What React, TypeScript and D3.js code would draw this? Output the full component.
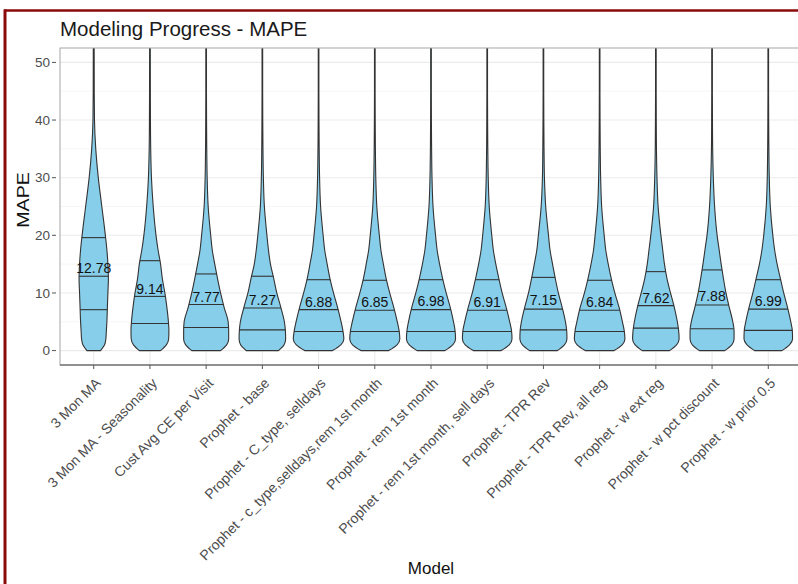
import React from "react";
import * as d3 from "d3";

const models = [
  "3 Mon MA",
  "3 Mon MA - Seasonality",
  "Cust Avg CE per Visit",
  "Prophet - base",
  "Prophet - C_type, selldays",
  "Prophet - c_type,selldays,rem 1st month",
  "Prophet - rem 1st month",
  "Prophet - rem 1st month, sell days",
  "Prophet - TPR Rev",
  "Prophet - TPR Rev, all reg",
  "Prophet - w ext reg",
  "Prophet - w pct discount",
  "Prophet - w prior 0.5",
];

const means = [12.78, 9.14, 7.77, 7.27, 6.88, 6.85, 6.98, 6.91, 7.15, 6.84, 7.62, 7.88, 6.99];
const q25 = [7.1, 4.7, 4.0, 3.6, 3.3, 3.3, 3.3, 3.3, 3.6, 3.3, 3.9, 3.8, 3.5];
const q50 = [12.9, 9.4, 8.0, 7.4, 7.1, 7.0, 7.1, 7.0, 7.2, 7.0, 7.8, 7.9, 7.2];
const q75 = [19.6, 15.6, 13.3, 12.9, 12.3, 12.2, 12.3, 12.3, 12.7, 12.2, 13.7, 14.0, 12.3];

// MAPE values at which the violin density (relative width) is read
const densityGrid = [0, 1, 2, 3.5, 5, 7.5, 10, 12.5, 15, 17.5, 20, 25, 30, 35, 40, 45, 55];
const densities: number[][] = [
  [0.27, 0.43, 0.48, 0.5, 0.52, 0.54, 0.56, 0.58, 0.56, 0.52, 0.46, 0.32, 0.18, 0.08, 0.03, 0.02, 0.016],
  [0.42, 0.65, 0.74, 0.75, 0.73, 0.67, 0.59, 0.49, 0.42, 0.32, 0.24, 0.13, 0.06, 0.03, 0.02, 0.016, 0.012],
  [0.57, 0.81, 0.89, 0.89, 0.87, 0.71, 0.57, 0.45, 0.34, 0.24, 0.18, 0.08, 0.04, 0.024, 0.016, 0.012, 0.012],
  [0.64, 0.86, 0.92, 0.91, 0.87, 0.73, 0.57, 0.45, 0.32, 0.24, 0.18, 0.08, 0.04, 0.024, 0.016, 0.012, 0.012],
  [0.55, 0.88, 1.0, 0.96, 0.89, 0.75, 0.59, 0.45, 0.34, 0.24, 0.18, 0.08, 0.04, 0.024, 0.016, 0.012, 0.012],
  [0.55, 0.88, 0.99, 0.96, 0.89, 0.75, 0.59, 0.45, 0.34, 0.24, 0.18, 0.08, 0.04, 0.024, 0.016, 0.012, 0.012],
  [0.55, 0.86, 0.97, 0.95, 0.89, 0.76, 0.60, 0.46, 0.34, 0.24, 0.18, 0.08, 0.04, 0.024, 0.016, 0.012, 0.012],
  [0.55, 0.87, 0.98, 0.96, 0.89, 0.75, 0.59, 0.46, 0.34, 0.24, 0.18, 0.08, 0.04, 0.024, 0.016, 0.012, 0.012],
  [0.55, 0.83, 0.93, 0.92, 0.87, 0.74, 0.59, 0.47, 0.36, 0.26, 0.20, 0.09, 0.04, 0.024, 0.016, 0.012, 0.012],
  [0.57, 0.89, 1.0, 0.97, 0.90, 0.77, 0.60, 0.46, 0.34, 0.24, 0.18, 0.08, 0.04, 0.024, 0.016, 0.012, 0.012],
  [0.54, 0.82, 0.92, 0.90, 0.85, 0.73, 0.58, 0.44, 0.34, 0.27, 0.20, 0.09, 0.045, 0.024, 0.016, 0.012, 0.012],
  [0.50, 0.78, 0.87, 0.87, 0.82, 0.68, 0.55, 0.45, 0.36, 0.28, 0.20, 0.10, 0.05, 0.024, 0.016, 0.012, 0.012],
  [0.54, 0.84, 0.96, 0.95, 0.89, 0.76, 0.61, 0.48, 0.35, 0.25, 0.18, 0.08, 0.04, 0.024, 0.016, 0.012, 0.012],
];

const yTicks = [0, 10, 20, 30, 40, 50];
const yMinor = [5, 15, 25, 35, 45];

const W = 798;
const H = 584;
const P = { left: 60, top: 48, right: 802, bottom: 365 };
const FONT = "'Liberation Sans', Arial, Helvetica, sans-serif";

export default function App() {
  const x = d3.scalePoint<string>().domain(models).range([P.left, P.right]).padding(0.6);
  const step = x.step();
  const y = d3.scaleLinear().domain([-2.5, 52.5]).range([P.bottom, P.top]);
  const wScale = d3.scaleLinear().domain([0, 1]).range([0, 0.45 * step]);

  return (
    <div style={{ position: "fixed", left: 0, top: 0, width: W, height: H, background: "#fff" }}>
      <svg width={W} height={H} style={{ display: "block" }}>
        <defs>
          <clipPath id="panel">
            <rect x={P.left} y={P.top} width={P.right - P.left} height={P.bottom - P.top} />
          </clipPath>
        </defs>
        <rect x={0} y={0} width={W} height={H} fill="#fff" />
        {/* frame */}
        <line x1={4} x2={W} y1={10.5} y2={10.5} stroke="#8b0a0a" strokeWidth={2.4} />
        <line x1={5} x2={5} y1={9.5} y2={H} stroke="#8b0a0a" strokeWidth={3} />

        <text x={P.left} y={36} fontFamily={FONT} fontSize={20.5} fill="#1a1a1a">
          Modeling Progress - MAPE
        </text>

        {/* grid */}
        <g clipPath="url(#panel)">
          {yMinor.map((t) => (
            <line key={"mn" + t} x1={P.left} x2={P.right} y1={y(t)} y2={y(t)} stroke="#f4f4f4" strokeWidth={0.8} />
          ))}
          {yTicks.map((t) => (
            <line key={"mj" + t} x1={P.left} x2={P.right} y1={y(t)} y2={y(t)} stroke="#ebebeb" strokeWidth={1.1} />
          ))}
          {models.map((m) => (
            <line key={"vx" + m} x1={x(m)} x2={x(m)} y1={P.top} y2={P.bottom} stroke="#ebebeb" strokeWidth={1.1} />
          ))}
        </g>

        {/* violins */}
        <g clipPath="url(#panel)">
          {models.map((m, i) => {
            const cx = x(m) as number;
            const pts = densityGrid.map((v, k) => ({ v, d: densities[i][k] }));
            const area = d3
              .area<{ v: number; d: number }>()
              .y((p) => y(p.v))
              .x0((p) => cx - wScale(p.d))
              .x1((p) => cx + wScale(p.d))
              .curve(d3.curveMonotoneY);
            const interp = d3.scaleLinear().domain(densityGrid).range(densities[i]);
            const qs = [q25[i], q50[i], q75[i]];
            return (
              <g key={m}>
                <path d={area(pts) || ""} fill="#87ceeb" stroke="#333333" strokeWidth={1.1} strokeLinejoin="round" />
                {qs.map((q, k) => {
                  const hw = wScale(interp(q));
                  return (
                    <line key={k} x1={cx - hw} x2={cx + hw} y1={y(q)} y2={y(q)} stroke="#333333" strokeWidth={1.1} />
                  );
                })}
                <text
                  x={cx}
                  y={y(means[i]) - 4}
                  textAnchor="middle"
                  fontFamily={FONT}
                  fontSize={14}
                  fill="#111"
                >
                  {means[i].toFixed(2)}
                </text>
              </g>
            );
          })}
        </g>

        {/* panel border */}
        <rect
          x={P.left}
          y={P.top}
          width={P.right - P.left}
          height={P.bottom - P.top}
          fill="none"
          stroke="#a6a6a6"
          strokeWidth={1}
        />
        <line x1={P.left} x2={P.right} y1={P.bottom} y2={P.bottom} stroke="#7a7a7a" strokeWidth={1.6} />

        {/* y axis */}
        {yTicks.map((t) => (
          <g key={"yt" + t}>
            <line x1={P.left - 8} x2={P.left - 4} y1={y(t)} y2={y(t)} stroke="#555" strokeWidth={1} />
            <text
              x={P.left - 10}
              y={y(t)}
              dy="0.35em"
              textAnchor="end"
              fontFamily={FONT}
              fontSize={13.5}
              fill="#4d4d4d"
            >
              {t}
            </text>
          </g>
        ))}
        <text
          transform={`translate(29, 200) rotate(-90) scale(1.15, 1)`}
          textAnchor="middle"
          fontFamily={FONT}
          fontSize={17}
          fill="#111"
        >
          MAPE
        </text>

        {/* x axis */}
        {models.map((m) => {
          const cx = x(m) as number;
          return (
            <g key={"xt" + m}>
              <line x1={cx} x2={cx} y1={P.bottom} y2={P.bottom + 4} stroke="#555" strokeWidth={1} />
              <text
                transform={`translate(${cx + 8}, ${P.bottom + 19}) rotate(-45)`}
                textAnchor="end"
                fontFamily={FONT}
                fontSize={14}
                fill="#4d4d4d"
              >
                {m}
              </text>
            </g>
          );
        })}
        <text x={(P.left + P.right) / 2} y={574} textAnchor="middle" fontFamily={FONT} fontSize={17} fill="#111">
          Model
        </text>
      </svg>
    </div>
  );
}
